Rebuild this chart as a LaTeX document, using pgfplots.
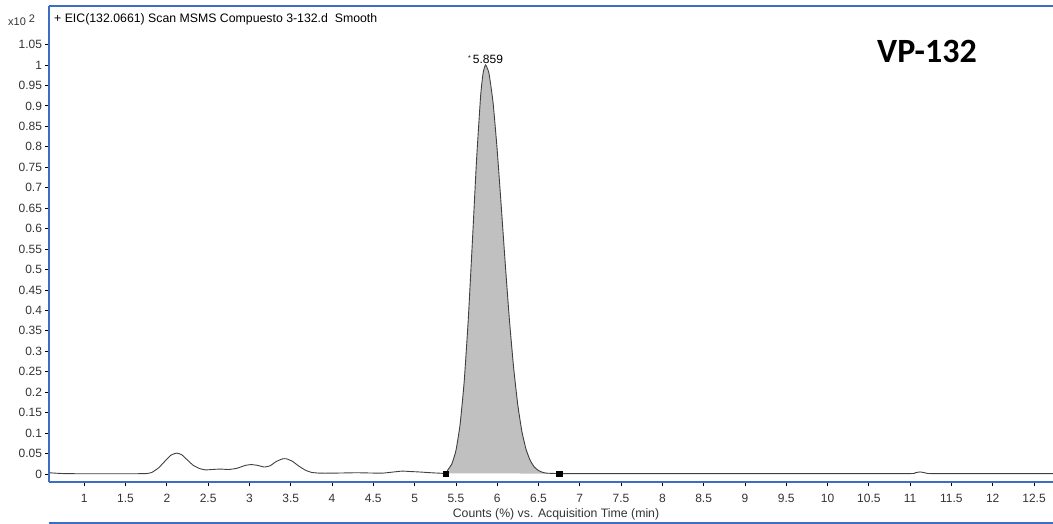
\documentclass[border=0pt]{standalone}
\usepackage{pgfplots}
\pgfplotsset{compat=1.18}
\usepackage{fontspec}
\setmainfont{Liberation Sans}
\newfontfamily\calibri{Carlito}
\definecolor{frameblue}{RGB}{60,110,195}
\definecolor{fillgray}{RGB}{192,192,192}
\begin{document}
\begin{tikzpicture}[x=1pt,y=1pt]
\useasboundingbox (0,0) rectangle (1053,524);
\begin{axis}[
  at={(49.5pt,42pt)}, anchor=south west,
  scale only axis, width=1003.5pt, height=475.5pt,
  xmin=0.579, xmax=12.73, ymin=-0.0196, ymax=1.143,
  axis line style={draw=none},
  clip mode=individual,
  tick pos=left, tick align=outside,
  major tick length=4pt,
  tick style={black, line width=0.8pt},
  xtick={1,1.5,2,2.5,3,3.5,4,4.5,5,5.5,6,6.5,7,7.5,8,8.5,9,9.5,10,10.5,11,11.5,12,12.5},
  ytick={0,0.05,0.1,0.15,0.2,0.25,0.3,0.35,0.4,0.45,0.5,0.55,0.6,0.65,0.7,0.75,0.8,0.85,0.9,0.95,1,1.05},
  ticklabel style={font=\fontsize{12}{14}\selectfont, text=black!80},
  xticklabel style={yshift=-5pt},
  /pgf/number format/.cd, fixed, precision=2, assume math mode=true,
]
% peak area
\addplot[draw=none, fill=fillgray] coordinates {
(5.38,0.0015) (5.40,0.0093) (5.45,0.0243) (5.50,0.057) (5.55,0.120) (5.60,0.225) (5.65,0.379) (5.70,0.570) (5.75,0.768) (5.80,0.926) (5.83,0.981) (5.859,1.0)
(5.90,0.980) (5.95,0.908) (6.00,0.792) (6.05,0.652) (6.10,0.507) (6.15,0.372) (6.20,0.258) (6.25,0.168) (6.30,0.103) (6.35,0.060) (6.40,0.033) (6.45,0.017) (6.50,0.0085) (6.55,0.0040) (6.60,0.0020) (6.75,0.001)
} -- cycle;
% trace
\addplot[black!75, line width=0.9pt, smooth, tension=0.3] coordinates {
(0.58,0.003) (0.65,0.002) (0.75,0.001) (1.0,0.0005) (1.5,0.0005) (1.75,0.001) (1.82,0.004) (1.90,0.015) (1.98,0.032) (2.05,0.046) (2.12,0.051) (2.18,0.047) (2.25,0.034) (2.32,0.021) (2.40,0.013) (2.47,0.010) (2.55,0.011) (2.65,0.012) (2.75,0.011) (2.85,0.014) (2.95,0.021) (3.02,0.023) (3.10,0.021) (3.18,0.017) (3.25,0.020) (3.32,0.030) (3.40,0.037) (3.45,0.037) (3.52,0.031) (3.60,0.019) (3.68,0.009) (3.75,0.004) (3.85,0.002) (4.0,0.002) (4.3,0.003) (4.6,0.002) (4.75,0.005) (4.85,0.007) (4.95,0.006) (5.05,0.005) (5.2,0.003) (5.3,0.002) (5.38,0.0015)
(5.40,0.0093) (5.45,0.0243) (5.50,0.057) (5.55,0.120) (5.60,0.225) (5.65,0.379) (5.70,0.570) (5.75,0.768) (5.80,0.926) (5.83,0.981) (5.859,1.0)
(5.90,0.980) (5.95,0.908) (6.00,0.792) (6.05,0.652) (6.10,0.507) (6.15,0.372) (6.20,0.258) (6.25,0.168) (6.30,0.103) (6.35,0.060) (6.40,0.033) (6.45,0.017) (6.50,0.0085) (6.55,0.0040) (6.60,0.0020) (6.75,0.001)
(7.0,0.001) (8.0,0.001) (9.0,0.001) (10.0,0.001) (11.0,0.001) (11.06,0.003) (11.12,0.005) (11.18,0.003) (11.25,0.001) (12.0,0.001) (12.73,0.001)
};
% integration baseline markers
\addplot[only marks, mark=square*, mark size=2.6pt, black] coordinates {(5.38,0.0015) (6.75,0.001)};
\node[anchor=south, font=\fontsize{12}{14}\selectfont, inner sep=1pt] at (axis cs:5.859,1.0) {\raisebox{3pt}{\fontsize{7}{8}\selectfont *}\,5.859};
% frame
\draw[frameblue, line width=2pt] (rel axis cs:0,0) -- (rel axis cs:0,1);
\draw[frameblue, line width=2pt] (rel axis cs:0,1) -- (rel axis cs:1,1);
\draw[frameblue, line width=2pt] (rel axis cs:0,0) -- (rel axis cs:1,0);
\end{axis}
\draw[frameblue, line width=1.5pt] (49,1) -- (1053,1);
\node[anchor=west, font=\fontsize{11}{13}\selectfont, text=black!80, inner sep=0pt] at (8,504) {x10\hspace{3pt}\raisebox{3pt}{2}};
\node[anchor=west, font=\fontsize{12.3}{14}\selectfont, inner sep=0pt] at (54,505) {+ EIC(132.0661) Scan MSMS Compuesto 3-132.d\ \ Smooth};
\node[font=\calibri\bfseries\fontsize{34}{40}\selectfont, inner sep=0pt] at (927,473) {VP-132};
\node[font=\fontsize{12.3}{14}\selectfont, text=black!80, inner sep=0pt] at (556,10) {Counts (\%) vs. Acquisition Time (min)};
\end{tikzpicture}
\end{document}
